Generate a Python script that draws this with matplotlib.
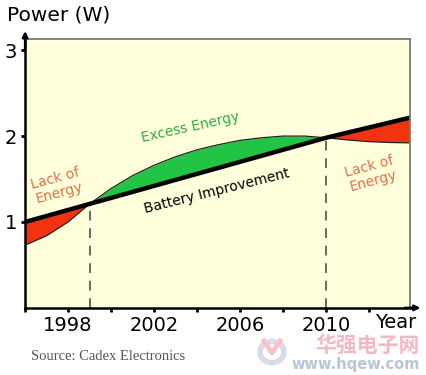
import numpy as np
import matplotlib.pyplot as plt
from matplotlib.patches import Circle

# --- data ---
years = [1996, 1997, 1998, 1999, 2000, 2001, 2002, 2003, 2004, 2005,
         2006, 2007, 2008, 2009, 2010, 2011, 2012, 2013, 2014]
battery = [1.00, 1.07, 1.14, 1.21, 1.28, 1.35, 1.42, 1.49, 1.56, 1.63,
           1.70, 1.77, 1.84, 1.91, 1.98, 2.04, 2.10, 2.16, 2.22]
demand = [0.73, 0.84, 1.00, 1.21, 1.39, 1.54, 1.66, 1.76, 1.84, 1.90,
          1.95, 1.98, 2.00, 2.00, 1.98, 1.955, 1.935, 1.925, 1.92]
crossings = [1999, 2010]
year_ticks = [1996, 1998, 2000, 2002, 2004, 2006, 2008, 2010, 2012]
year_labels = ['', '1998', '', '2002', '', '2006', '', '2010', '']
power_ticks = [1, 2, 3]

x = np.array(years)
b = np.array(battery)
d = np.array(demand)

BG = '#FFFFDC'
RED = '#F2330F'
GREEN = '#22C445'
ORANGE = '#E0704A'

fig = plt.figure(figsize=(4.26, 3.75), dpi=100)
ax = fig.add_axes([0.059, 0.179, 0.903, 0.717])
ax.set_facecolor(BG)

ax.fill_between(x, b, d, where=d >= b, interpolate=True, color=GREEN, lw=0)
ax.fill_between(x, b, d, where=d <= b, interpolate=True, color=RED, lw=0)
ax.plot(x, d, color='#222222', lw=0.9)
ax.plot(x, b, color='black', lw=3.2, solid_capstyle='butt')

for c in crossings:
    yc = np.interp(c, x, b)
    ax.plot([c, c], [0, yc], color='#666666', lw=1.4, ls=(0, (5, 4)))

ax.set_xlim(1996, 2013.9)
ax.set_ylim(0, 3.13)

ax.set_xticks(year_ticks)
ax.set_xticklabels(year_labels)
ax.set_yticks(power_ticks)
ax.tick_params(labelsize=14, length=3, width=2, color='black', pad=3)

for s in ['left', 'bottom']:
    ax.spines[s].set_color('black')
    ax.spines[s].set_linewidth(1.8)
for s in ['top', 'right']:
    ax.spines[s].set_color('#7a7a7a')
    ax.spines[s].set_linewidth(1.3)

# axis arrows
ax.annotate('', xy=(0, 1.04), xytext=(0, 0.95), xycoords='axes fraction',
            arrowprops=dict(arrowstyle='-|>', color='black', lw=1.8,
                            mutation_scale=8), annotation_clip=False)
ax.annotate('', xy=(1.035, 0), xytext=(0.98, 0), xycoords='axes fraction',
            arrowprops=dict(arrowstyle='-|>', color='black', lw=1.8,
                            mutation_scale=8), annotation_clip=False)

fig.text(0.016, 0.96, 'Power (W)', fontsize=14.5, va='center', ha='left')
ax.text(2013.25, -0.06, 'Year', fontsize=14, ha='center', va='top',
        clip_on=False)

ax.text(2003.7, 2.10, 'Excess Energy', color='#33AA44', fontsize=10,
        rotation=12.5, ha='center', va='center')
ax.text(2004.9, 1.36, 'Battery Improvement', color='black', fontsize=10,
        rotation=14, ha='center', va='center')
ax.text(1997.5, 1.42, 'Lack of\nEnergy', color=ORANGE, fontsize=10,
        rotation=15, ha='center', va='center', linespacing=1.0)
ax.text(2012.1, 1.56, 'Lack of\nEnergy', color=ORANGE, fontsize=10,
        rotation=15, ha='center', va='center', linespacing=1.0)

fig.text(0.072, 0.048, 'Source: Cadex Electronics', family='Liberation Serif',
         fontsize=10.5, color='#555555', va='center', ha='left')

# watermark (kept light, below the tick labels)
fig.patches.append(Circle((272 / 426, 1 - 352 / 375), 12 / 426,
                          transform=fig.transFigure, fill=False,
                          ec='#CDD4E0', lw=4, alpha=0.8))
fig.lines.append(plt.Line2D([264 / 426, 272 / 426, 280 / 426],
                            [1 - 341 / 375, 1 - 353 / 375, 1 - 341 / 375],
                            transform=fig.transFigure, color='#F6C2C8',
                            lw=3.5))
fig.text(0.986, 1 - 345 / 375, '华强电子网',
         family=['Noto Sans CJK SC', 'DejaVu Sans'],
         fontsize=15, color='#F6B8C0', ha='right', va='center',
         fontweight='bold')
fig.text(0.986, 1 - 364 / 375, 'www.hqew.com', fontsize=10.5,
         color='#B8C4D8', ha='right', va='center', fontweight='bold')

fig.savefig('out.png', dpi=100, facecolor='white')
